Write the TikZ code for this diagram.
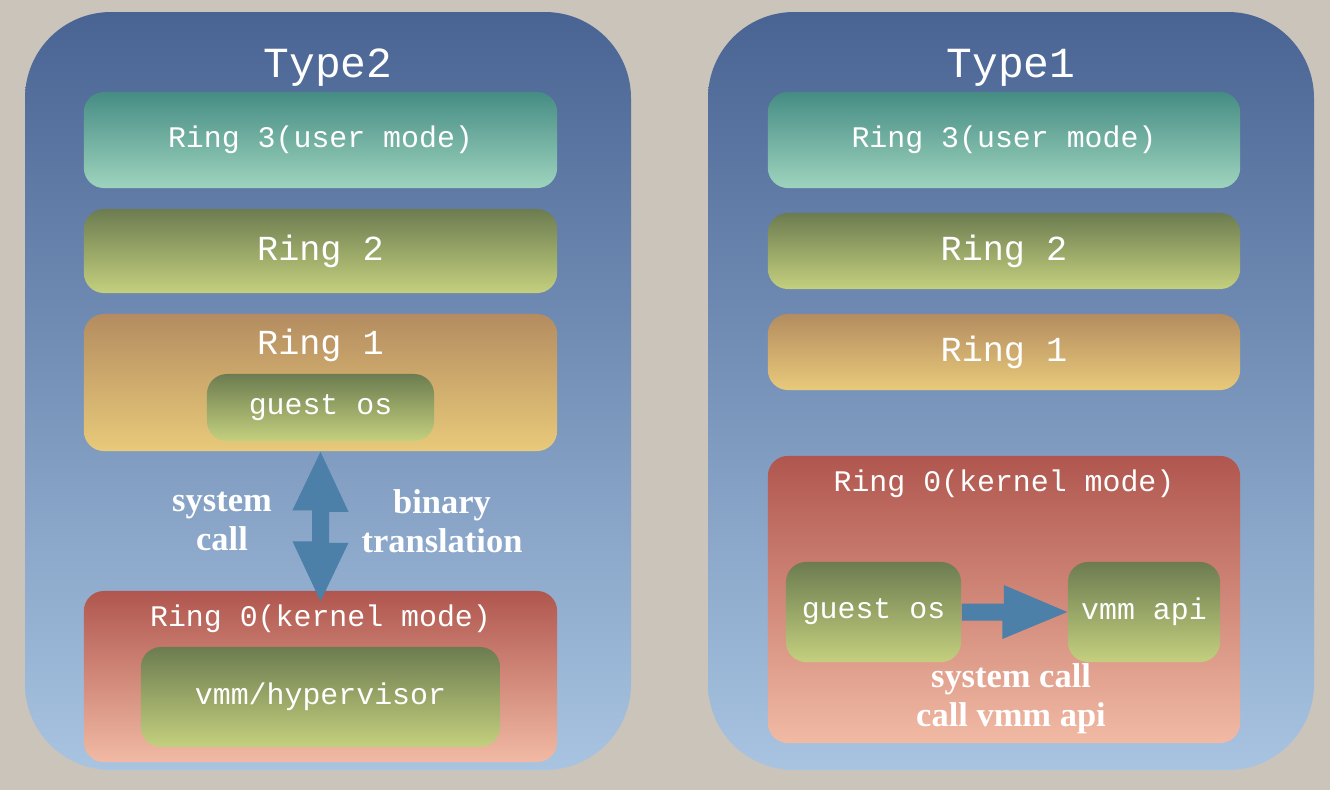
\documentclass[tikz,border=0pt]{standalone}
\usepackage{fontspec}
\setmainfont{Liberation Serif}
\setmonofont{Liberation Mono}
\usetikzlibrary{calc}

\definecolor{backdrop}{RGB}{203,196,186}
\definecolor{paneltop}{RGB}{73,100,147}
\definecolor{panelbot}{RGB}{168,196,225}
\definecolor{usertop}{RGB}{70,140,132}
\definecolor{userbot}{RGB}{158,212,190}
\definecolor{olivetop}{RGB}{108,124,80}
\definecolor{olivebot}{RGB}{196,208,126}
\definecolor{sandtop}{RGB}{180,140,96}
\definecolor{sandbot}{RGB}{232,202,122}
\definecolor{kerneltop}{RGB}{176,86,78}
\definecolor{kernelmid}{RGB}{220,150,130}
\definecolor{kernelbot}{RGB}{241,186,164}
\definecolor{arrowblue}{RGB}{76,128,168}

\tikzset{
  ring/.style={rectangle, rounded corners=0.2cm, inner sep=0pt, text=white,
    font=\ttfamily\fontsize{8.5}{10}\selectfont},
  ringbig/.style={text=white, font=\ttfamily\fontsize{10}{12}\selectfont},
  ringsmall/.style={text=white, font=\ttfamily\fontsize{8.5}{10}\selectfont},
  panel/.style={top color=paneltop, bottom color=panelbot, rounded corners=0.86cm},
  usershade/.style={top color=usertop, bottom color=userbot},
  oliveshade/.style={top color=olivetop, bottom color=olivebot},
  sandshade/.style={top color=sandtop, bottom color=sandbot},
  kernelshade/.style={top color=kerneltop, middle color=kernelmid, bottom color=kernelbot},
  paneltitle/.style={text=white, font=\ttfamily\fontsize{12.2}{14}\selectfont},
  note/.style={text=white, align=center, font=\bfseries\fontsize{9.8}{11.1}\selectfont},
  blockarrow/.style={fill=arrowblue}
}

\begin{document}
\begin{tikzpicture}[x=0.01cm, y=-0.01cm]
\useasboundingbox (0,0) rectangle (1330,790);
\fill[backdrop] (0,0) rectangle (1330,790); % background

% Type2 panel
\shade[panel] (25,12) rectangle (631,770);
\node[paneltitle] (t2) at (328,68) {Type2};

\node[ring, usershade, minimum width=4.73cm, minimum height=0.96cm] (r3L) at (320.5,140) {Ring 3(user mode)};
\node[ring, ringbig, oliveshade, minimum width=4.73cm, minimum height=0.84cm] (r2L) at (320.5,251) {Ring 2};
\node[ring, sandshade, minimum width=4.73cm, minimum height=1.37cm] (r1L) at (320.5,382.5) {};
\node[ringbig] (r1Ltxt) at (320.5,345) {Ring 1};
\node[ring, oliveshade, minimum width=2.27cm, minimum height=0.67cm] (gosL) at (320.5,407.5) {guest os};
\node[ring, kernelshade, minimum width=4.73cm, minimum height=1.71cm] (r0L) at (320.5,676.5) {};
\node[ringsmall] (r0Ltxt) at (320.5,619) {Ring 0(kernel mode)};
\node[ring, oliveshade, minimum width=3.59cm, minimum height=1cm] (vmmL) at (320.5,697) {vmm/hypervisor};

% up and down arrow
\fill[blockarrow] (r1L.south) -- ++(28,60) -- ++(-19.5,0) -- ++(0,31) -- ++(19.5,0)
  -- ($(r0L.north)+(0,11)$) -- ++(-28,-60) -- ++(19.5,0) -- ++(0,-31) -- ++(-19.5,0) -- cycle;
\node[note] (sysL) at (222,521) {system\\call};
\node[note] (binL) at (442,521) {binary\\translation};

% Type1 panel
\shade[panel] (708,12) rectangle (1314,770);
\node[paneltitle] (t1) at (1011,68) {Type1};

\node[ring, usershade, minimum width=4.72cm, minimum height=0.96cm] (r3R) at (1004,140) {Ring 3(user mode)};
\node[ring, ringbig, oliveshade, minimum width=4.72cm, minimum height=0.76cm] (r2R) at (1004,251) {Ring 2};
\node[ring, ringbig, sandshade, minimum width=4.72cm, minimum height=0.76cm] (r1R) at (1004,352) {Ring 1};
\node[ring, kernelshade, minimum width=4.72cm, minimum height=2.87cm] (r0R) at (1004,599.5) {};
\node[ringsmall] (r0Rtxt) at (1004,484) {Ring 0(kernel mode)};
\node[ring, oliveshade, minimum width=1.75cm, minimum height=1cm] (gosR) at (873.5,612) {guest os};
\node[ring, oliveshade, minimum width=1.52cm, minimum height=1cm] (apiR) at (1144,612) {vmm api};

% guest os to vmm api
\fill[blockarrow] ($(gosR.east)+(0,-8.5)$) -- ++(42,0) -- ++(0,-18.5) -- (apiR.west)
  -- ++(-65,27) -- ++(0,-18.5) -- ($(gosR.east)+(0,8.5)$) -- cycle;
\node[note] (sysR) at (1011,699) {system call\\call vmm api};

\end{tikzpicture}
\end{document}
